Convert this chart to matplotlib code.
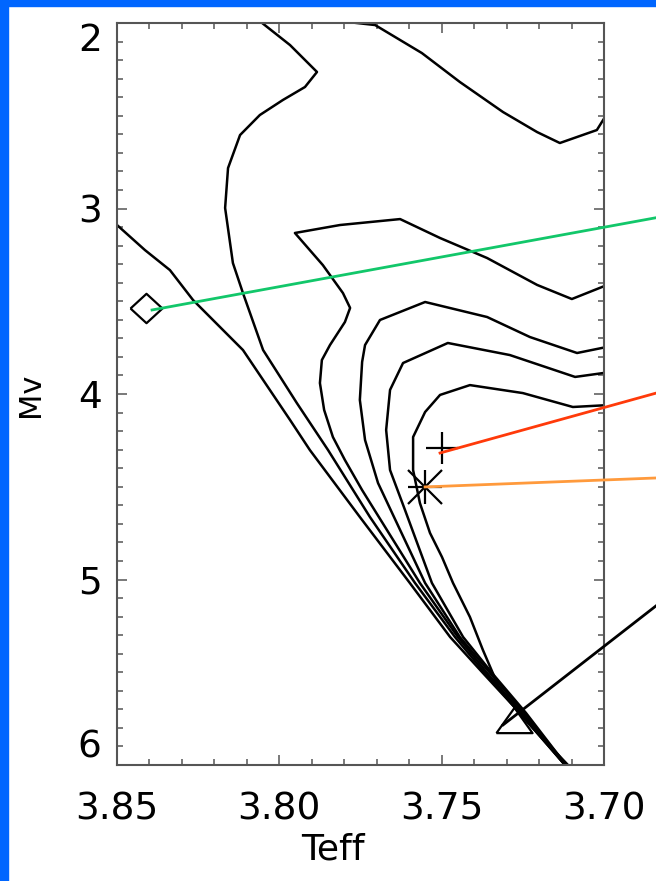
import matplotlib
matplotlib.use("Agg")
import matplotlib.pyplot as plt
from matplotlib.patches import Rectangle
from matplotlib.ticker import MultipleLocator, FormatStrFormatter

BLUE = "#0066FF"
GREEN = "#12C76A"
RED = "#FF3A0A"
ORANGE = "#FF9A3C"
AXIS_GRAY = "#555555"

# isochrones: log Teff vs Mv
iso_a_teff = [3.8500, 3.8414, 3.8337, 3.8266, 3.8112, 3.7967, 3.7906, 3.7752,
              3.7598, 3.7474, 3.7373, 3.7259, 3.7120, 3.7070]
iso_a_mv = [3.089, 3.224, 3.332, 3.493, 3.763, 4.140, 4.302, 4.663,
            5.019, 5.310, 5.504, 5.720, 6.000, 6.100]

iso_b_teff = [3.8090, 3.8053, 3.7967, 3.7884, 3.7921, 3.7989, 3.8060, 3.8121,
              3.8158, 3.8167, 3.8143, 3.8112, 3.8050, 3.7946, 3.7850, 3.7721,
              3.7582, 3.7459, 3.7367, 3.7259, 3.7120, 3.7070]
iso_b_mv = [1.950, 2.000, 2.119, 2.264, 2.345, 2.415, 2.496, 2.604,
            2.782, 2.997, 3.294, 3.456, 3.763, 4.049, 4.302, 4.663,
            5.019, 5.310, 5.504, 5.720, 6.000, 6.100]

iso_c_teff = [3.7813, 3.7705, 3.7561, 3.7444, 3.7311, 3.7206, 3.7136, 3.7022,
              3.6997, 3.6982]
iso_c_mv = [1.990, 2.011, 2.162, 2.318, 2.480, 2.588, 2.647, 2.577,
            2.507, 2.458]

iso_d_teff = [3.6990, 3.7099, 3.7206, 3.7360, 3.7505, 3.7628, 3.7813, 3.7952,
              3.7866, 3.7804, 3.7782, 3.7798, 3.7844, 3.7869, 3.7875, 3.7862,
              3.7835, 3.7798, 3.7745, 3.7567, 3.7450, 3.7360, 3.7253, 3.7120,
              3.7070]
iso_d_mv = [3.412, 3.488, 3.412, 3.267, 3.159, 3.057, 3.089, 3.132,
            3.305, 3.456, 3.536, 3.612, 3.736, 3.817, 3.941, 4.086,
            4.232, 4.356, 4.518, 5.019, 5.310, 5.504, 5.720, 6.000,
            6.100]

iso_e_teff = [3.6990, 3.7083, 3.7228, 3.7360, 3.7551, 3.7690, 3.7736, 3.7745,
              3.7752, 3.7736, 3.7696, 3.7628, 3.7551, 3.7444, 3.7351, 3.7246,
              3.7117, 3.7067]
iso_e_mv = [3.746, 3.779, 3.693, 3.585, 3.504, 3.601, 3.736, 3.827,
            4.032, 4.248, 4.480, 4.733, 5.019, 5.310, 5.504, 5.720,
            6.000, 6.100]

iso_f_teff = [3.6990, 3.7089, 3.7290, 3.7481, 3.7619, 3.7659, 3.7671, 3.7659,
              3.7613, 3.7530, 3.7434, 3.7345, 3.7240, 3.7117, 3.7067]
iso_f_mv = [3.884, 3.908, 3.790, 3.725, 3.833, 3.978, 4.194, 4.410,
            4.625, 5.019, 5.310, 5.504, 5.720, 6.000, 6.100]

iso_g_teff = [3.6990, 3.7096, 3.7250, 3.7413, 3.7505, 3.7551, 3.7588, 3.7588,
              3.7567, 3.7536, 3.7499, 3.7465, 3.7413, 3.7373, 3.7320, 3.7228,
              3.7111, 3.7061]
iso_g_mv = [4.060, 4.070, 3.995, 3.952, 4.005, 4.097, 4.232, 4.410,
            4.588, 4.749, 4.879, 5.019, 5.202, 5.380, 5.596, 5.784,
            6.000, 6.100]

ISOCHRONES = [
    (iso_a_teff, iso_a_mv), (iso_b_teff, iso_b_mv), (iso_c_teff, iso_c_mv),
    (iso_d_teff, iso_d_mv), (iso_e_teff, iso_e_mv), (iso_f_teff, iso_f_mv),
    (iso_g_teff, iso_g_mv),
]

# individual stars
diamond_teff, diamond_mv = 3.8411, 3.536
plus_teff, plus_mv = 3.7499, 4.291
star_teff, star_mv = 3.7551, 4.501
tri_teff, tri_mv = 3.7277, 5.755

# pointer lines running off to the right edge (start, end)
green_teff = [3.8392, 3.6800]
green_mv = [3.547, 3.037]
red_teff = [3.7505, 3.6800]
red_mv = [4.318, 3.976]
orange_teff = [3.7551, 3.6800]
orange_mv = [4.501, 4.450]
black_teff = [3.7311, 3.6800]
black_mv = [5.784, 5.088]

x_ticks = [3.85, 3.80, 3.75, 3.70]
y_ticks = [2, 3, 4, 5, 6]

plt.rcParams["font.family"] = ["DejaVu Sans"]
plt.rcParams["font.size"] = 27

W, H = 656, 881
fig = plt.figure(figsize=(W / 100, H / 100), dpi=100)
fig.patch.set_facecolor("white")
fig.patches.append(Rectangle((0, 0), 8 / W, 1, transform=fig.transFigure,
                             color=BLUE, zorder=0))
fig.patches.append(Rectangle((0, 1 - 6 / H), 1, 6 / H, transform=fig.transFigure,
                             color=BLUE, zorder=0))

ax = fig.add_axes([117 / W, 1 - 765 / H, 487 / W, 742 / H])

for teff, mv in ISOCHRONES:
    ax.plot(teff, mv, color="black", lw=1.8, solid_joinstyle="round")

diamond = [(-1, 0), (0, 0.92), (1, 0), (0, -0.92), (-1, 0)]
triangle = [(-1, -0.7), (1, -0.7), (0, 0.7), (-1, -0.7)]
ax.plot(diamond_teff, diamond_mv, marker=diamond, ms=23, mfc="none",
        mec="black", mew=1.6, ls="none")
ax.plot(plus_teff, plus_mv, marker="+", ms=23, mec="black", mew=1.6, ls="none")
ax.plot(star_teff, star_mv, marker="+", ms=25, mec="black", mew=1.6, ls="none")
ax.plot(star_teff, star_mv, marker="x", ms=25, mec="black", mew=1.6, ls="none")
ax.plot(tri_teff, tri_mv, marker=triangle, ms=26, mfc="none", mec="black",
        mew=1.6, ls="none", clip_on=False)

for teff, mv, col in [(green_teff, green_mv, GREEN), (red_teff, red_mv, RED),
                      (orange_teff, orange_mv, ORANGE),
                      (black_teff, black_mv, "black")]:
    ax.plot(teff, mv, color=col, lw=2, clip_on=False, zorder=5)

ax.set_xlim(3.85, 3.70)
ax.set_ylim(6, 2)
ax.set_xticks(x_ticks)
ax.set_yticks(y_ticks)
ax.xaxis.set_major_formatter(FormatStrFormatter("%.2f"))
ax.xaxis.set_minor_locator(MultipleLocator(0.01))
ax.yaxis.set_minor_locator(MultipleLocator(0.1))
ax.tick_params(which="both", direction="in", top=True, right=True,
               color=AXIS_GRAY, width=1.1)
ax.tick_params(which="major", length=7.5)
ax.tick_params(which="minor", length=4.5)
ax.tick_params(axis="y", which="major", pad=11)
ax.tick_params(axis="x", which="major", pad=19)
for side in ax.spines.values():
    side.set_color(AXIS_GRAY)
    side.set_linewidth(1.5)

# keep the end labels inside the frame
ticks = ax.yaxis.get_major_ticks()
ticks[0].label1.set_va("top")
ticks[-1].label1.set_va("bottom")

fig.text(30 / W, 1 - 395 / H, "Mv", rotation=90, ha="center", va="center",
         fontsize=22)
fig.text(333 / W, 1 - 850 / H, "Teff", ha="center", va="center", fontsize=26)

fig.savefig("out.png", dpi=100, facecolor="white")
